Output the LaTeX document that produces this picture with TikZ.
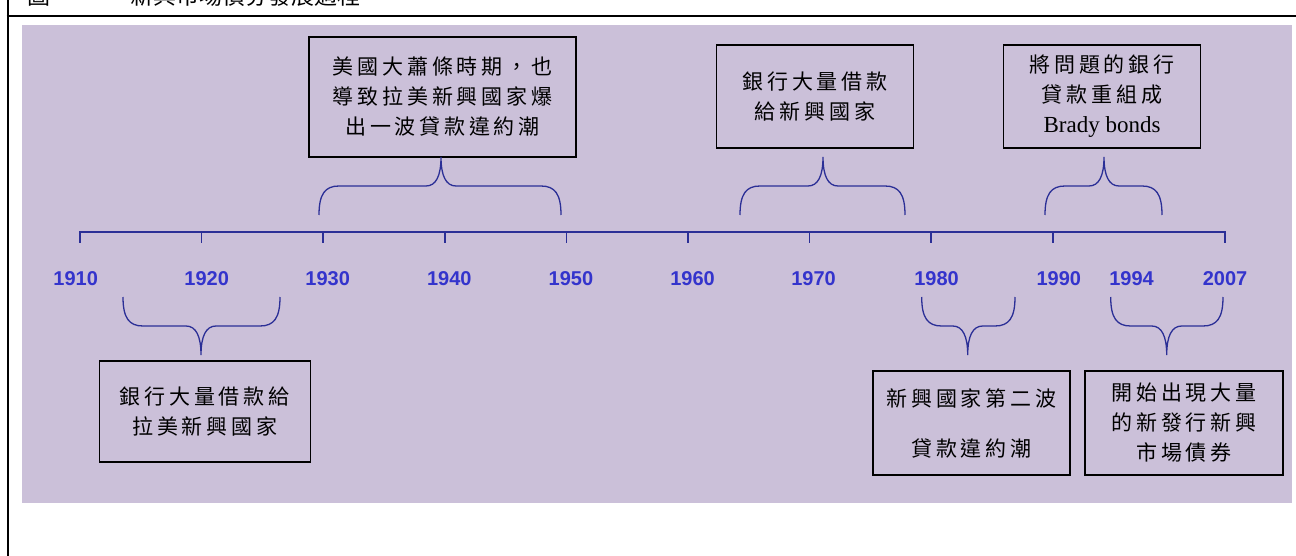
\documentclass[tikz,border=0pt]{standalone}
\usepackage{fontspec}
\setmainfont{Liberation Serif}
\newfontfamily\cjk[LetterSpace=18]{Noto Sans CJK TC}
\newfontfamily\cjktitle{Noto Sans CJK TC}
\newfontfamily\lsans{Liberation Sans}
\definecolor{bgpurple}{RGB}{203,192,217}
\definecolor{linkblue}{RGB}{43,47,150}
\definecolor{yearblue}{RGB}{52,52,204}
\newcommand{\tlbrace}[6]{%
  \draw[bracepen] (#1,#4) .. controls (#1,{#5+0.28*(#4-#5)}) and ({#1+6},#5) .. ({#1+20},#5)
    -- ({#3-15},#5) .. controls ({#3-5},#5) and (#3,{#5+0.35*(#6-#5)}) .. (#3,#6)
    .. controls (#3,{#5+0.35*(#6-#5)}) and ({#3+5},#5) .. ({#3+15},#5)
    -- ({#2-20},#5) .. controls ({#2-6},#5) and (#2,{#5+0.28*(#4-#5)}) .. (#2,#4);}
\tikzset{
  tlbox/.style={draw=black, line width=1.4pt, fill=bgpurple, align=center, inner sep=0pt,
    font=\cjk\fontsize{21}{30}\selectfont, text=black},
  bracepen/.style={draw=linkblue, line width=1.3pt},
  axispen/.style={draw=linkblue, line width=1.6pt},
  yearlbl/.style={font=\lsans\bfseries\fontsize{20}{20}\selectfont, text=yearblue, inner sep=0pt},
  framepen/.style={draw=black, line width=2pt}
}
\begin{document}
\begin{tikzpicture}[x=1pt,y=-1pt]
\useasboundingbox (0,0) rectangle (1296,556);
% title (cut off at the top, as in the reference)
\node[anchor=base west, inner sep=0pt, font=\cjktitle\fontsize{23}{23}\selectfont] (title) at (27,5) {圖一\hspace{57pt}新興市場債券發展過程};
% frame
\draw[framepen] (7.5,0) -- (7.5,556);
\draw[framepen] (6.5,15.7) -- (1296,15.7);
% background panel
\fill[bgpurple] (22,25) rectangle (1292,503);
% axis
\draw[axispen] (80,243) -- (80,232) -- (1225,232) -- (1225,243);
\foreach \tx in {201.6,323.2,444.8,566.4,688,809.6,931.2,1052.8}
  \draw[axispen] (\tx,232) -- (\tx,243);
% year labels
\node[yearlbl] (y1910) at (75.7,279) {1910};
\node[yearlbl] (y1920) at (206.7,279) {1920};
\node[yearlbl] (y1930) at (327.7,279) {1930};
\node[yearlbl] (y1940) at (449.3,279) {1940};
\node[yearlbl] (y1950) at (570.9,279) {1950};
\node[yearlbl] (y1960) at (692.5,279) {1960};
\node[yearlbl] (y1970) at (813.5,279) {1970};
\node[yearlbl] (y1980) at (936.5,279) {1980};
\node[yearlbl] (y1990) at (1058.8,279) {1990};
\node[yearlbl] (y1994) at (1131.5,279) {1994};
\node[yearlbl] (y2007) at (1225,279) {2007};
% boxes
\node[tlbox, minimum width=267pt, minimum height=120pt] (b1) at (442.5,97)
  {美國大蕭條時期，也\\導致拉美新興國家爆\\出一波貸款違約潮};
\node[tlbox, minimum width=197pt, minimum height=103pt] (b2) at (815,96.5)
  {銀行大量借款\\給新興國家};
\node[tlbox, minimum width=197pt, minimum height=103pt] (b3) at (1102,96.5)
  {將問題的銀行\\貸款重組成\\{\rmfamily\fontsize{23}{30}\selectfont Brady bonds}};
\node[tlbox, minimum width=211pt, minimum height=101pt] (b4) at (204.7,411.5)
  {銀行大量借款給\\拉美新興國家};
\node[tlbox, minimum width=197pt, minimum height=104pt] (b5) at (971.3,423)
  {新興國家第二波\\[20pt]貸款違約潮};
\node[tlbox, minimum width=198pt, minimum height=104pt] (b6) at (1184,423)
  {開始出現大量\\的新發行新興\\市場債券};
% braces
\tlbrace{319}{561}{441}{215}{186}{157}
\tlbrace{740}{905}{823}{215}{186}{157}
\tlbrace{1045}{1162}{1104}{215}{186}{157}
\tlbrace{123}{280}{201}{297}{326}{355}
\tlbrace{921.7}{1015}{967.7}{297}{326}{355}
\tlbrace{1110.7}{1223}{1166.7}{297}{326}{355}
\end{tikzpicture}
\end{document}
